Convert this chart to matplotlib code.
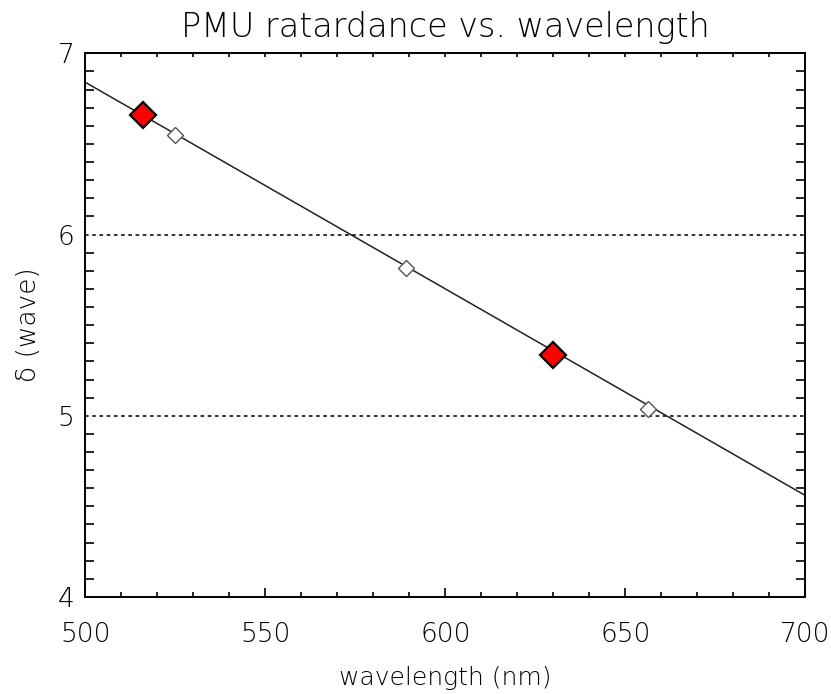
import numpy as np
import matplotlib
matplotlib.use('Agg')
import matplotlib.pyplot as plt
from matplotlib.ticker import MultipleLocator

# measured points (filled = calibration lines, open = other lines)
filled_wl = [515.9, 630.0]
filled_ret = [6.66, 5.335]
open_wl = [525.0, 589.0, 656.3]
open_ret = [6.55, 5.815, 5.04]

# linear fit across the plotted range
fit_wl = [500, 700]
fit_ret = [6.84, 4.56]

ref_levels = [5, 6]

plt.rcParams['font.family'] = 'DejaVu Sans'
plt.rcParams['font.weight'] = 'light'

fig = plt.figure(figsize=(8.31, 6.94), dpi=100)
ax = fig.add_axes([0.1027, 0.1398, 0.8664, 0.7834])

for lev in ref_levels:
    ax.plot([500, 700], [lev, lev], color='#222222', lw=1.3,
            linestyle=(0, (2, 2)), zorder=1)

ax.plot(fit_wl, fit_ret, color='#222222', lw=1.1, zorder=2)
ax.plot(open_wl, open_ret, 'D', ms=8, mfc='white', mec='#555555',
        mew=1.0, zorder=3)
ax.plot(filled_wl, filled_ret, 'D', ms=13.5, mfc='red', mec='black',
        mew=1.6, zorder=4)

ax.set_xlim(500, 700)
ax.set_ylim(4, 7)

ax.xaxis.set_major_locator(MultipleLocator(50))
ax.xaxis.set_minor_locator(MultipleLocator(10))
ax.yaxis.set_major_locator(MultipleLocator(1))
ax.yaxis.set_minor_locator(MultipleLocator(0.1))

ax.tick_params(axis='x', which='both', direction='in', top=False,
               labelsize=19, pad=18, width=1.2)
ax.tick_params(axis='x', which='major', length=6.5)
ax.tick_params(axis='x', which='minor', length=3.3)
ax.tick_params(axis='y', which='both', direction='in', right=True,
               labelsize=19, pad=8, width=1.2)
ax.tick_params(axis='y', which='major', length=0)
ax.tick_params(axis='y', which='minor', length=6.5)

top = ax.secondary_xaxis('top')
top.xaxis.set_major_locator(MultipleLocator(10))
top.tick_params(direction='in', length=3.2, width=1.2, labeltop=False)

for s in ax.spines.values():
    s.set_linewidth(1.4)
top.spines['top'].set_linewidth(1.4)

ax.set_xlabel('wavelength (nm)', fontsize=18, fontweight='light', labelpad=14)
ax.set_ylabel('δ (wave)', fontsize=19, fontweight='light', labelpad=12)
ax.set_title('PMU ratardance vs. wavelength', fontsize=24, fontweight='light',
             pad=12)

fig.savefig('out.png', dpi=100)
